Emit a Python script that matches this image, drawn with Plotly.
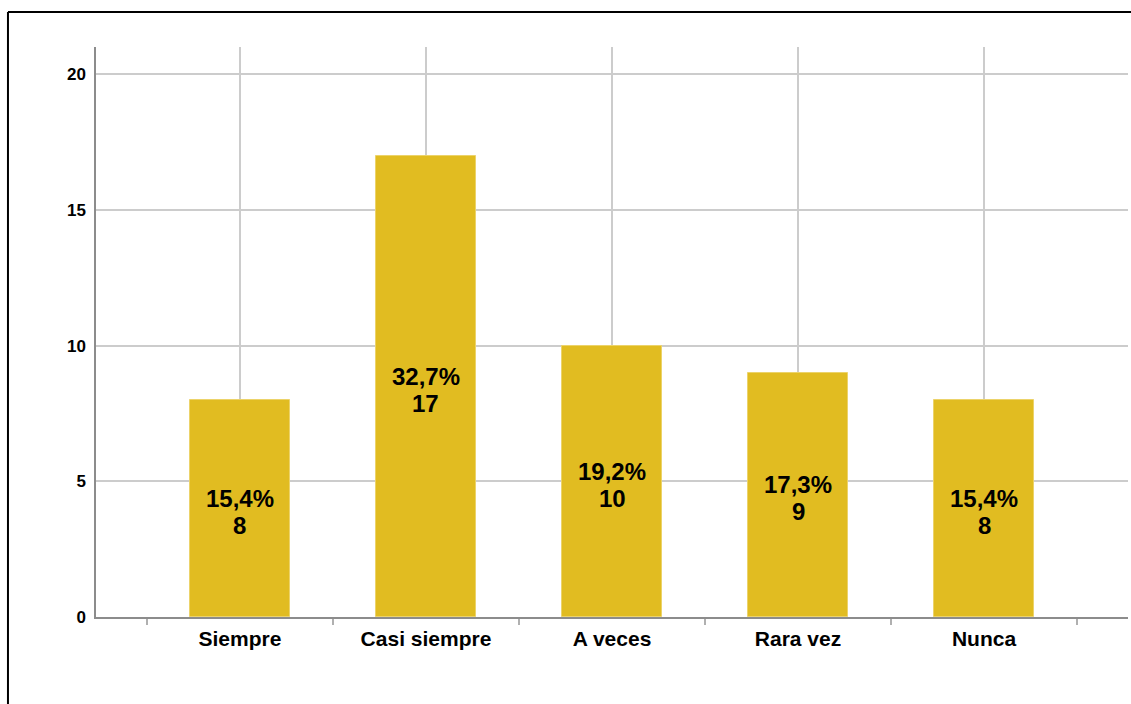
import plotly.graph_objects as go

categories = ["Siempre", "Casi siempre", "A veces", "Rara vez", "Nunca"]
counts = [8, 17, 10, 9, 8]
percents = ["15,4%", "32,7%", "19,2%", "17,3%", "15,4%"]
y_ticks = [0, 5, 10, 15, 20]

xpos = list(range(len(categories)))
bounds = [i - 0.5 for i in range(len(categories) + 1)]

FONT = "Liberation Sans, Arial, sans-serif"
BAR = "#e1bc21"

fig = go.Figure()
fig.add_trace(go.Bar(
    x=xpos, y=counts, width=0.54,
    marker=dict(color=BAR, line=dict(color="#ecd36a", width=1)),
    hoverinfo="skip",
))

for i, (n, p) in enumerate(zip(counts, percents)):
    fig.add_annotation(x=i, y=n / 2, text=p, showarrow=False, yshift=10,
                       font=dict(family=FONT, size=24, color="black", weight="bold"))
    fig.add_annotation(x=i, y=n / 2, text=str(n), showarrow=False, yshift=-17,
                       font=dict(family=FONT, size=24, color="black", weight="bold"))

fig.update_layout(
    width=1131, height=704,
    margin=dict(l=96, r=3, t=47, b=87),
    paper_bgcolor="white", plot_bgcolor="white",
    showlegend=False,
    bargap=0,
)
fig.update_xaxes(
    range=[-0.774, len(categories) - 1 + 0.774],
    tickvals=xpos, ticktext=categories,
    ticks="", showgrid=True, gridcolor="#cccccc", gridwidth=1.5,
    showline=True, linecolor="#8c8c8c", linewidth=1.5,
    tickfont=dict(family=FONT, size=21, color="black", weight="bold"),
    ticklabelstandoff=2,
    minor=dict(tickvals=bounds, ticks="outside", ticklen=6, tickcolor="#b0b0b0",
               tickwidth=1.5, showgrid=False),
    zeroline=False, fixedrange=True,
)
fig.update_yaxes(
    range=[0, 21], tickvals=y_ticks,
    ticks="", showgrid=True, gridcolor="#cccccc", gridwidth=1.5,
    showline=True, linecolor="#8c8c8c", linewidth=1.5,
    tickfont=dict(family=FONT, size=17, color="black", weight="bold"),
    ticklabelstandoff=5,
    zeroline=False, fixedrange=True,
)

# outer frame (top and left border of the exported image)
fig.add_shape(type="line", xref="paper", yref="paper",
              x0=-0.0853, x1=1.01, y0=1.0614, y1=1.0614,
              line=dict(color="black", width=2))
fig.add_shape(type="line", xref="paper", yref="paper",
              x0=-0.0853, x1=-0.0853, y0=1.0614, y1=-0.2,
              line=dict(color="black", width=2))

fig.write_html("out.html")
